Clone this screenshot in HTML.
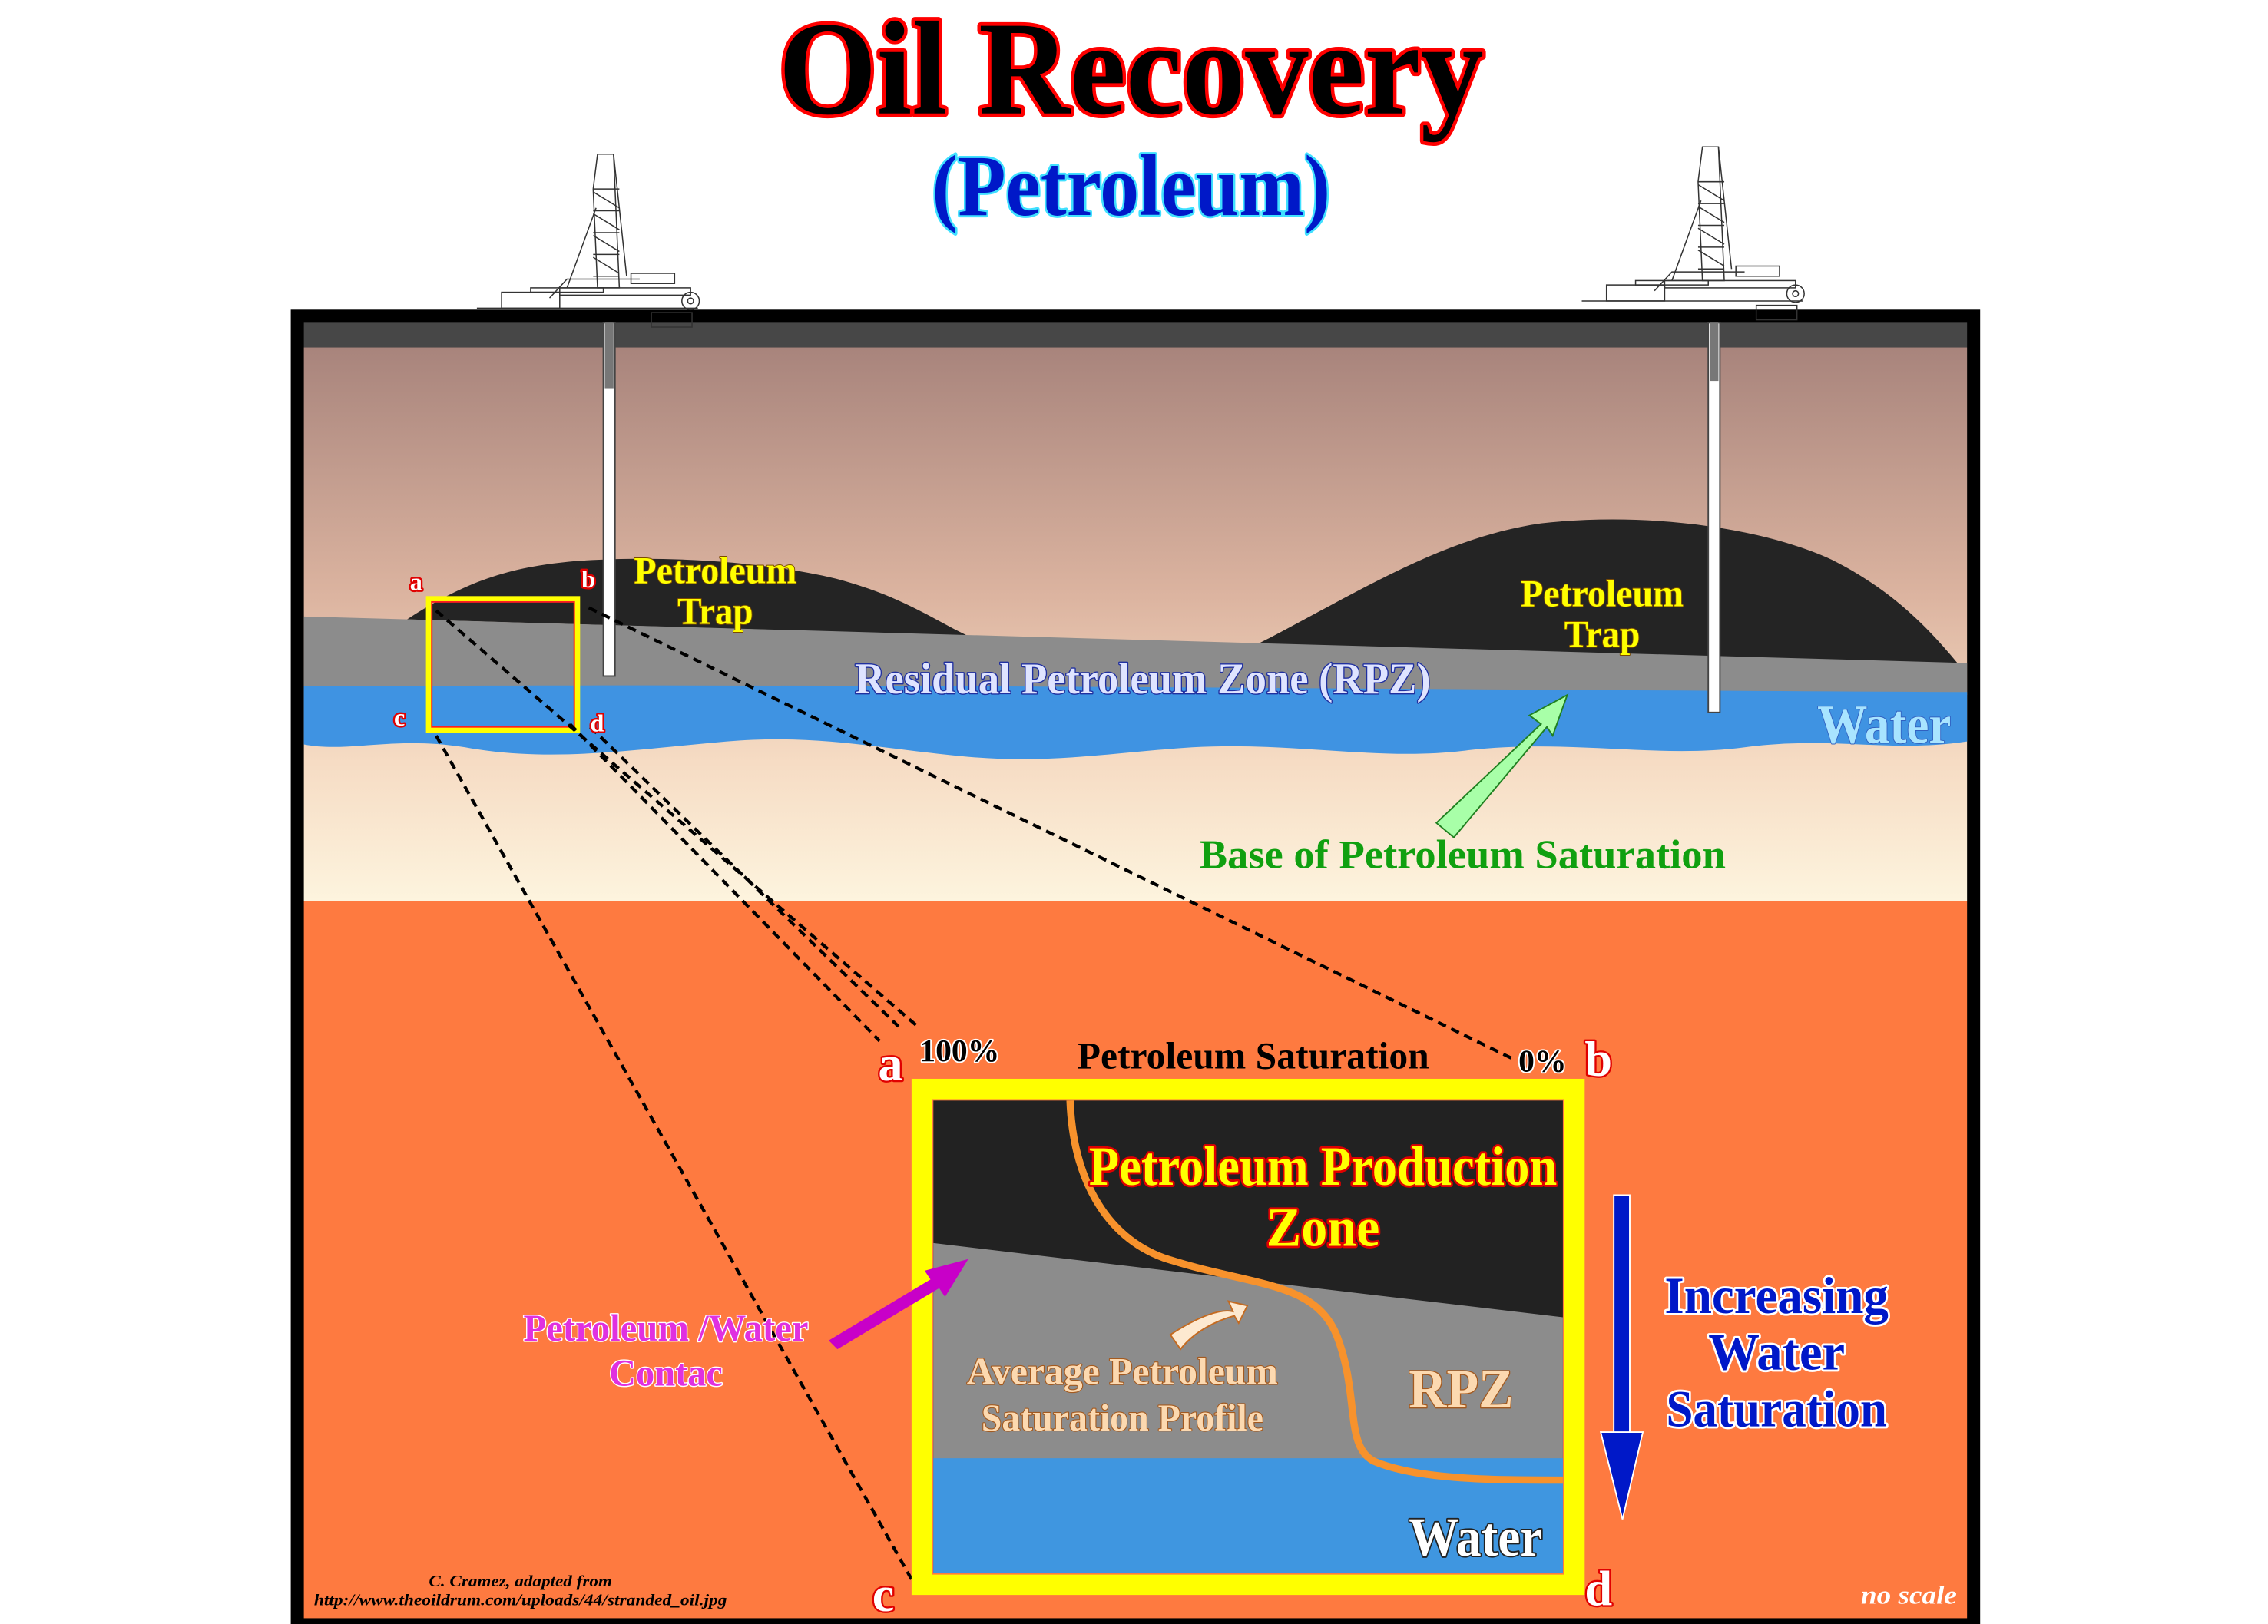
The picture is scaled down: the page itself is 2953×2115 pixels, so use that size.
<!DOCTYPE html>
<html><head><meta charset="utf-8"><style>
html,body{margin:0;padding:0;background:#fff;}
svg{display:block;}
text{font-family:"Liberation Serif",serif;font-weight:bold;paint-order:stroke;stroke-linejoin:round;}
</style></head><body>
<svg width="2953" height="2115" viewBox="0 0 1560 1117" preserveAspectRatio="none" xmlns="http://www.w3.org/2000/svg">
<defs>
<linearGradient id="sky" x1="0" y1="0" x2="0" y2="1">
<stop offset="0" stop-color="#a8847c"/><stop offset="0.45" stop-color="#dcb4a0"/><stop offset="0.75" stop-color="#f6dcc4"/><stop offset="1" stop-color="#fdf4de"/>
</linearGradient>
</defs>
<rect width="1560" height="1117" fill="#fff"/>
<!-- frame -->
<rect x="200" y="213" width="1162" height="909" fill="#000"/>
<rect x="209" y="222" width="1144" height="17" fill="#474747"/>
<rect x="209" y="239" width="1144" height="381" fill="url(#sky)"/>
<rect x="209" y="620" width="1144" height="493" fill="#fe7a40"/>
<!-- hills -->
<path d="M280,426 C320,400 350,390 395,386 C450,382 520,385 575,398 C620,410 640,425 665,437 Z" fill="#242424"/>
<path d="M865,443 C930,410 990,370 1060,360 C1130,352 1210,362 1260,385 C1300,405 1325,430 1348,458 Z" fill="#242424"/>
<!-- gray RPZ band -->
<path d="M209,424 L1353,456 L1353,478 C1100,476 800,472 209,474 Z" fill="#8c8c8c"/>
<!-- water -->
<path d="M209,472 C600,470 900,474 1353,476 L1353,510 C1300,518 1260,506 1200,514 C1140,522 1080,508 1010,516 C950,524 890,510 820,514 C760,518 720,526 660,520 C600,514 560,505 500,510 C440,515 380,525 320,514 C270,506 240,518 209,512 Z" fill="#3f93e2"/>
<!-- wells -->
<rect x="415" y="222" width="8" height="243" fill="#fff" stroke="#444" stroke-width="1"/>
<rect x="416" y="222" width="6" height="45" fill="#777"/>
<rect x="1175" y="222" width="8" height="268" fill="#fff" stroke="#444" stroke-width="1"/>
<rect x="1176" y="222" width="6" height="40" fill="#777"/>
<!-- rigs -->
<g fill="none" stroke="#333" stroke-width="0.8">
<g id="rig">
<path d="M328,212 L480,212"/>
<rect x="345" y="201" width="40" height="11"/>
<rect x="365" y="198" width="50" height="3"/>
<path d="M378,205 L390,192 L440,192"/>
<path d="M411,106 L422,106 L426,198 L411,198 L408,130 Z"/>
<path d="M408,130 L426,130 M408,145 L426,145 M408,160 L426,160 M408,175 L426,175 M408,190 L426,190"/>
<path d="M408,132 L426,143 M408,147 L426,158 M408,162 L426,173 M408,177 L426,188"/>
<path d="M410,143 L390,198 M422,106 L431,190"/>
<rect x="385" y="198" width="90" height="5"/>
<circle cx="475" cy="207" r="6"/><circle cx="475" cy="207" r="2"/>
<rect x="434" y="188" width="30" height="7"/>
<rect x="448" y="215" width="28" height="10"/>
</g>
<use href="#rig" transform="translate(760,-5)"/>
</g>
<!-- small box -->
<rect x="295" y="412" width="102" height="90" fill="none" stroke="#ffff00" stroke-width="4"/>
<rect x="297" y="414" width="98" height="86" fill="none" stroke="#ff2020" stroke-width="1"/>
<!-- dashed connectors -->
<g stroke="#000" stroke-width="2.2" stroke-dasharray="6,4" fill="none">
<path d="M300,420 L630,705"/>
<path d="M392,498 L605,716"/>
<path d="M406,500 L618,706"/>
<path d="M405,418 L1040,728"/>
<path d="M300,506 L628,1088"/>
</g>
<!-- small labels -->
<g font-size="17" fill="#fff" stroke="#e00000" stroke-width="2.5">
<text x="282" y="406">a</text><text x="400" y="404">b</text><text x="271" y="499">c</text><text x="406" y="503">d</text>
</g>
<!-- big box -->
<rect x="634" y="749" width="449" height="341" fill="none" stroke="#ffff00" stroke-width="14"/>
<rect x="642" y="757" width="433" height="325" fill="#222"/>
<path d="M642,855 L1075,906 L1075,1082 L642,1082 Z" fill="#8c8c8c"/>
<rect x="642" y="1003" width="433" height="79" fill="#3f96e0"/>
<path d="M736,757 C738,810 760,850 800,865 C860,885 905,880 920,920 C935,960 925,995 945,1005 C975,1018 1030,1018 1075,1018" fill="none" stroke="#f7922c" stroke-width="5"/>
<!-- arrow profile -->
<path d="M805,918 C825,905 840,900 848,902 L845,895 L858,898 L852,910 L849,905 C838,908 822,915 812,928 Z" fill="#fde9d0" stroke="#c46a20" stroke-width="1"/>
<!-- texts in box -->
<text x="910" y="815" font-size="38" fill="#ffff00" stroke="#e00000" stroke-width="3" text-anchor="middle" textLength="322" lengthAdjust="spacingAndGlyphs">Petroleum Production</text>
<text x="910" y="857" font-size="38" fill="#ffff00" stroke="#e00000" stroke-width="3" text-anchor="middle" textLength="78" lengthAdjust="spacingAndGlyphs">Zone</text>
<text x="1005" y="968" font-size="38" fill="#fcd9b0" stroke="#a35a20" stroke-width="1.5" text-anchor="middle" textLength="72" lengthAdjust="spacingAndGlyphs">RPZ</text>
<text x="772" y="952" font-size="26" fill="#fcd9b0" stroke="#a35a20" stroke-width="1.2" text-anchor="middle" textLength="214" lengthAdjust="spacingAndGlyphs">Average Petroleum</text>
<text x="772" y="984" font-size="26" fill="#fcd9b0" stroke="#a35a20" stroke-width="1.2" text-anchor="middle" textLength="194" lengthAdjust="spacingAndGlyphs">Saturation Profile</text>
<text x="1015" y="1070" font-size="38" fill="#fff" stroke="#222" stroke-width="2" text-anchor="middle" textLength="92" lengthAdjust="spacingAndGlyphs">Water</text>
<!-- header of box -->
<text x="862" y="735" font-size="26" fill="#000" text-anchor="middle" textLength="242" lengthAdjust="spacingAndGlyphs">Petroleum Saturation</text>
<text x="660" y="730" font-size="22" fill="#000" stroke="#fff" stroke-width="2" text-anchor="middle">100%</text>
<text x="1061" y="737" font-size="22" fill="#000" stroke="#fff" stroke-width="2" text-anchor="middle">0%</text>
<g font-size="34" fill="#fff" stroke="#e00000" stroke-width="2.5" font-weight="normal">
<text x="604" y="743">a</text><text x="1090" y="740">b</text><text x="600" y="1108">c</text><text x="1090" y="1104">d</text>
</g>
<!-- blue arrow -->
<rect x="1110" y="822" width="11" height="165" fill="#0018c8" stroke="#fff" stroke-width="1"/>
<path d="M1101,985 L1130,985 L1116,1045 Z" fill="#0018c8" stroke="#fff" stroke-width="1"/>
<g font-size="36" fill="#0018c8" stroke="#fff" stroke-width="3" text-anchor="middle">
<text x="1222" y="903" textLength="154" lengthAdjust="spacingAndGlyphs">Increasing</text>
<text x="1222" y="942" textLength="94" lengthAdjust="spacingAndGlyphs">Water</text>
<text x="1222" y="981" textLength="152" lengthAdjust="spacingAndGlyphs">Saturation</text>
</g>
<!-- magenta -->
<path d="M570,922 L640,880 L636,874 L666,866 L650,892 L646,886 L576,928 Z" fill="#c800c8"/>
<g font-size="26" fill="#e030e0" stroke="#fff" stroke-width="1.5" text-anchor="middle">
<text x="458" y="922" textLength="196" lengthAdjust="spacingAndGlyphs">Petroleum /Water</text>
<text x="458" y="953" textLength="78" lengthAdjust="spacingAndGlyphs">Contac</text>
</g>
<!-- top labels -->
<g font-size="26" fill="#ffff00" stroke="#7a4a00" stroke-width="1" text-anchor="middle">
<text x="492" y="401" textLength="112" lengthAdjust="spacingAndGlyphs">Petroleum</text>
<text x="492" y="429" textLength="52" lengthAdjust="spacingAndGlyphs">Trap</text>
<text x="1102" y="417" textLength="112" lengthAdjust="spacingAndGlyphs">Petroleum</text>
<text x="1102" y="445" textLength="52" lengthAdjust="spacingAndGlyphs">Trap</text>
</g>
<text x="786" y="477" font-size="30" fill="#dfe4ff" stroke="#2030a0" stroke-width="1.5" text-anchor="middle" textLength="396" lengthAdjust="spacingAndGlyphs">Residual Petroleum Zone (RPZ)</text>
<text x="1296" y="511" font-size="38" fill="#a8e4ff" stroke="#3060c0" stroke-width="1" text-anchor="middle" textLength="92" lengthAdjust="spacingAndGlyphs">Water</text>
<path d="M988,566 L1060,498 L1052,492 L1078,478 L1068,506 L1064,500 L1000,576 Z" fill="#a8ffa8" stroke="#208020" stroke-width="1"/>
<text x="1006" y="597" font-size="28" fill="#10a010" text-anchor="middle" textLength="362" lengthAdjust="spacingAndGlyphs">Base of Petroleum Saturation</text>
<!-- credits -->
<text x="358" y="1091" font-size="11" fill="#000" font-style="italic" font-weight="normal" text-anchor="middle" textLength="126" lengthAdjust="spacingAndGlyphs">C. Cramez, adapted from</text>
<text x="358" y="1104" font-size="11" fill="#000" font-style="italic" font-weight="normal" text-anchor="middle" textLength="284" lengthAdjust="spacingAndGlyphs">http://www.theoildrum.com/uploads/44/stranded_oil.jpg</text>
<text x="1313" y="1103" font-size="18" fill="#fff" font-style="italic" font-weight="normal" text-anchor="middle" textLength="66" lengthAdjust="spacingAndGlyphs">no scale</text>
<!-- title -->
<text x="778" y="78" font-size="92" fill="#000" stroke="#ff0000" stroke-width="5" text-anchor="middle" textLength="485" lengthAdjust="spacingAndGlyphs">Oil Recovery</text>
<text x="778" y="148" font-size="60" fill="#0018c8" stroke="#40e0ff" stroke-width="3" text-anchor="middle" textLength="274" lengthAdjust="spacingAndGlyphs">(Petroleum)</text>
</svg>
</body></html>
